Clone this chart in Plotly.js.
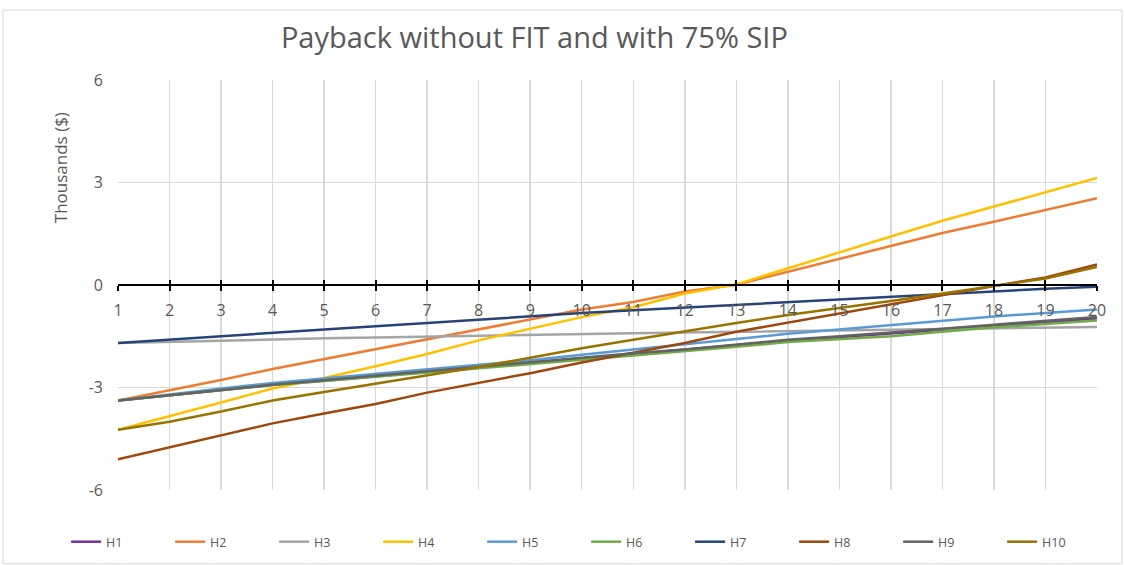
<!DOCTYPE html>
<html>
<head>
<meta charset="utf-8">
<script src="https://cdn.plot.ly/plotly-3.0.1.min.js"></script>
<style>html,body{margin:0;padding:0;background:#fff;}#chart{width:1125px;height:565px;}</style>
</head>
<body>
<div id="chart"></div>
<script>
const years = [1,2,3,4,5,6,7,8,9,10,11,12,13,14,15,16,17,18,19,20];
const seriesNames = ['H1','H2','H3','H4','H5','H6','H7','H8','H9','H10'];
const H1  = [-3.38,-3.22,-3.07,-2.92,-2.80,-2.67,-2.54,-2.41,-2.28,-2.14,-2.02,-1.90,-1.77,-1.63,-1.53,-1.43,-1.31,-1.19,-1.08,-0.98];
const H2  = [-3.38,-3.09,-2.78,-2.46,-2.17,-1.89,-1.58,-1.30,-1.02,-0.72,-0.50,-0.19,0.01,0.39,0.78,1.14,1.52,1.85,2.19,2.54];
const H3  = [-1.70,-1.66,-1.62,-1.59,-1.56,-1.54,-1.51,-1.48,-1.45,-1.43,-1.41,-1.39,-1.37,-1.35,-1.33,-1.31,-1.29,-1.27,-1.25,-1.23];
const H4  = [-4.24,-3.85,-3.44,-3.03,-2.72,-2.38,-2.02,-1.62,-1.28,-0.94,-0.65,-0.25,0.02,0.49,0.97,1.42,1.88,2.30,2.73,3.13];
const H5  = [-3.38,-3.20,-3.03,-2.87,-2.74,-2.61,-2.47,-2.35,-2.20,-2.04,-1.88,-1.73,-1.58,-1.43,-1.30,-1.18,-1.05,-0.92,-0.82,-0.72];
const H6  = [-3.38,-3.23,-3.08,-2.93,-2.81,-2.69,-2.56,-2.44,-2.31,-2.19,-2.06,-1.94,-1.81,-1.67,-1.58,-1.50,-1.37,-1.24,-1.14,-1.04];
const H7  = [-1.70,-1.60,-1.49,-1.38,-1.30,-1.21,-1.11,-1.02,-0.92,-0.82,-0.74,-0.66,-0.58,-0.50,-0.43,-0.34,-0.26,-0.18,-0.11,-0.05];
const H8  = [-5.10,-4.75,-4.40,-4.05,-3.76,-3.48,-3.15,-2.87,-2.58,-2.27,-1.99,-1.70,-1.37,-1.10,-0.85,-0.58,-0.30,-0.03,0.22,0.60];
const H9  = [-3.38,-3.22,-3.07,-2.92,-2.79,-2.66,-2.53,-2.40,-2.26,-2.12,-2.00,-1.89,-1.74,-1.60,-1.50,-1.40,-1.28,-1.16,-1.05,-0.94];
const H10 = [-4.24,-4.00,-3.70,-3.38,-3.13,-2.89,-2.63,-2.40,-2.13,-1.85,-1.60,-1.35,-1.11,-0.88,-0.68,-0.47,-0.25,-0.02,0.19,0.53];
const seriesValues = [H1,H2,H3,H4,H5,H6,H7,H8,H9,H10];
const colors = ['#7030A0','#ED7D31','#A5A5A5','#FFC000','#5B9BD5','#70AD47','#264478','#9E480E','#636363','#997300'];
const yTicks = [-6,-3,0,3,6];
const titleText = 'Payback without FIT and with 75% SIP';
const yTitleText = 'Thousands ($)';

const FONT = 'Open Sans, Liberation Sans, sans-serif';
const TXT = '#595959';

const traces = seriesNames.map((n,i) => ({
  type:'scatter', mode:'lines', name:n, x:years, y:seriesValues[i],
  line:{color:colors[i], width:2.5}, hoverinfo:'x+y+name'
}));
// helper trace so that the second (tick) axis is drawn
traces.push({type:'scatter', mode:'lines', x:years, y:years.map(()=>null), xaxis:'x2', yaxis:'y', showlegend:false, hoverinfo:'skip'});

const layout = {
  width:1125, height:565,
  paper_bgcolor:'#fff', plot_bgcolor:'#fff',
  margin:{l:118, r:28, t:80, b:75, autoexpand:false},
  font:{family:FONT, color:TXT},
  title:{text:titleText, font:{family:FONT, size:29, color:TXT}, x:0.475, xref:'container', xanchor:'center', y:0.933, yref:'container', yanchor:'middle'},
  xaxis:{range:[1,20], tickvals:years, ticktext:years.map(String), anchor:'free', position:0.5,
    showgrid:true, gridcolor:'#D9D9D9', gridwidth:1.5, zeroline:false,
    showline:true, linecolor:'#000', linewidth:2, ticks:'outside', ticklen:5, tickwidth:2, tickcolor:'#000',
    tickfont:{size:16, color:TXT, family:FONT}, ticklabelstandoff:6},
  xaxis2:{range:[1,20], tickvals:years, overlaying:'x', anchor:'free', position:0.5,
    showgrid:false, zeroline:false, showline:false, ticks:'inside', ticklen:5, tickwidth:2, tickcolor:'#000', showticklabels:false},
  yaxis:{range:[-6,6], tickvals:yTicks, ticktext:yTicks.map(String), showgrid:true, gridcolor:'#D9D9D9', gridwidth:1.5,
    zeroline:false, showline:false, ticks:'', tickfont:{size:16, color:TXT, family:FONT}, ticklabelstandoff:14},
  showlegend:true,
  legend:{orientation:'h', x:-0.053, xanchor:'left', y:-0.127, yanchor:'middle',
    font:{size:12.5, color:TXT, family:FONT}, entrywidth:59, entrywidthmode:'pixels', traceorder:'normal', bgcolor:'rgba(0,0,0,0)'},
  annotations:[{text:yTitleText, xref:'paper', yref:'paper', x:-0.0592, y:0.785, showarrow:false, textangle:-90,
    font:{size:17, color:TXT, family:FONT}, xanchor:'center', yanchor:'middle'}],
  shapes:[{type:'rect', xref:'paper', yref:'paper', x0:-0.1175, x1:1.0255, y0:-0.18, y1:1.1707, line:{color:'#D9D9D9', width:1}, fillcolor:'rgba(0,0,0,0)', layer:'below'}]
};

Plotly.newPlot('chart', traces, layout, {displayModeBar:false, staticPlot:true});
</script>
</body>
</html>
